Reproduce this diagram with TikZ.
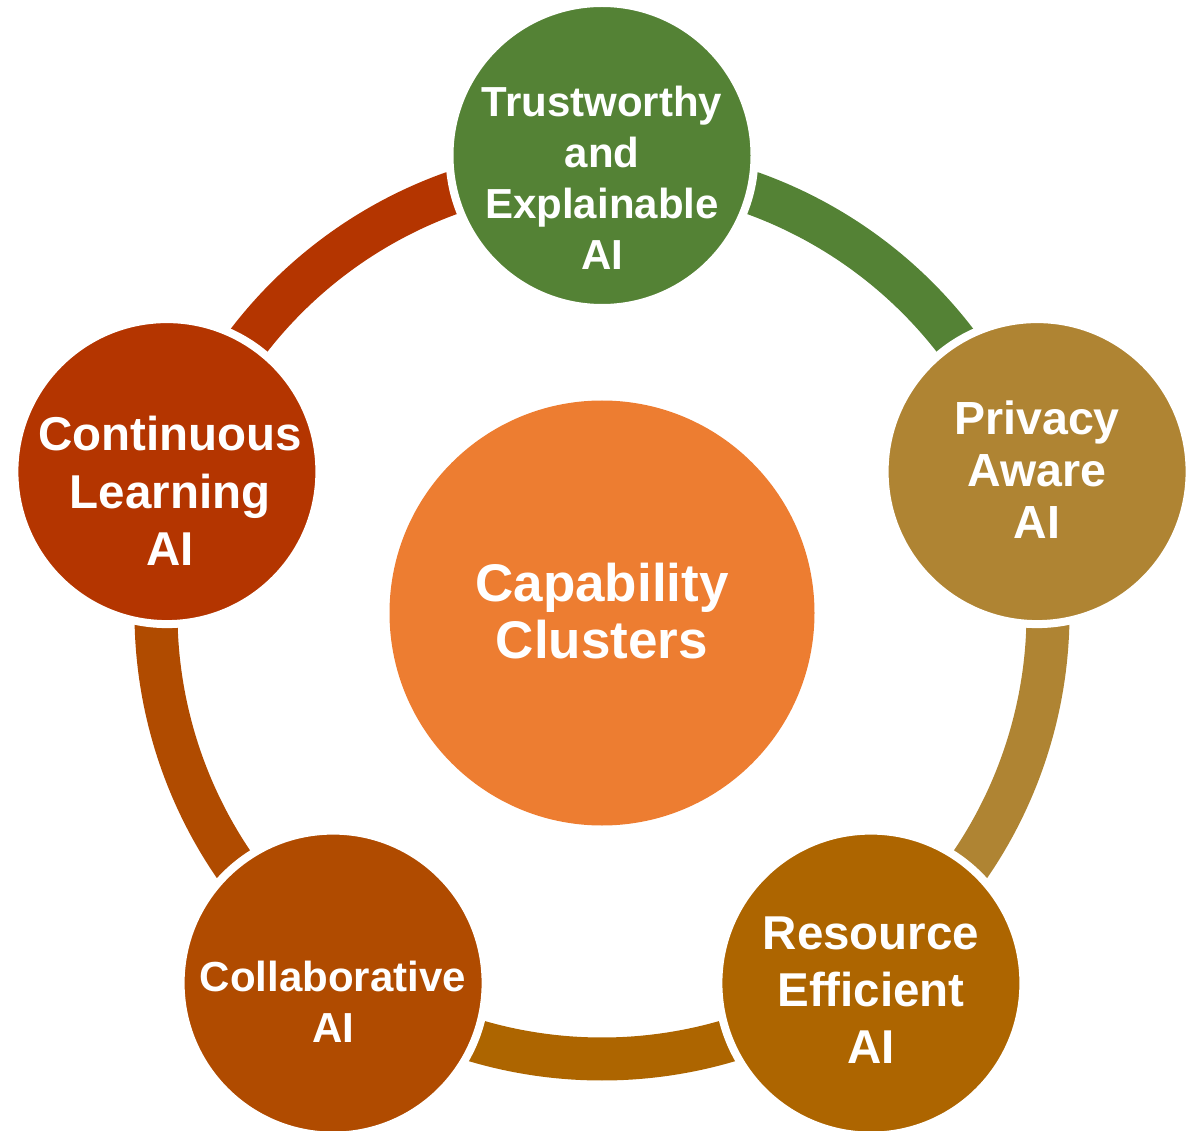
\documentclass[tikz,border=0pt]{standalone}
\usepackage{fontspec}
\setmainfont{Liberation Sans}
\definecolor{cgreen}{HTML}{548235}
\definecolor{cpriv}{HTML}{AF8433}
\definecolor{cres}{HTML}{AD6500}
\definecolor{ccol}{HTML}{B04B00}
\definecolor{ccont}{HTML}{B43500}
\definecolor{ccenter}{HTML}{ED7D31}
\tikzset{
  outernode/.style={circle, draw=white, line width=8pt, minimum size=305pt, inner sep=0pt},
  ringarc/.style={line width=43pt},
  lbl/.style={text=white, anchor=base, inner sep=0pt, font=\bfseries}
}
\newcommand{\lines}[1]{\setlength{\tabcolsep}{0pt}\begin{tabular}[t]{c}#1\end{tabular}}
\begin{document}
\begin{tikzpicture}[x=1pt,y=1pt]
\useasboundingbox (0,0) rectangle (1192,-1131);
\coordinate (C) at (602,-613);
% ring arcs
\draw[ringarc, cgreen] (C) ++(90:446) arc[start angle=90, end angle=18, radius=446];
\draw[ringarc, cpriv] (C) ++(18:446) arc[start angle=18, end angle=-54, radius=446];
\draw[ringarc, cres] (C) ++(-54:446) arc[start angle=-54, end angle=-126, radius=446];
\draw[ringarc, ccol] (C) ++(-126:446) arc[start angle=-126, end angle=-198, radius=446];
\draw[ringarc, ccont] (C) ++(162:446) arc[start angle=162, end angle=90, radius=446];
% circles
\node[outernode, fill=cgreen] (top) at (602,-155.5) {};
\node[outernode, fill=cpriv] (priv) at (1037.1,-471.6) {};
\node[outernode, fill=cres] (res) at (870.9,-983.1) {};
\node[outernode, fill=ccol] (col) at (333.1,-983.1) {};
\node[outernode, fill=ccont] (cont) at (166.9,-471.6) {};
\node[circle, fill=ccenter, minimum size=425pt, inner sep=0pt] (center) at (C) {};
% labels
\node[lbl] (ttop) at (602,-116.5) {\fontsize{42}{51}\selectfont\lines{Trustworthy\\and\\Explainable\\AI}};
\node[lbl] (tpriv) at (1037,-435) {\fontsize{46.5}{52}\selectfont\lines{Privacy\\Aware\\AI}};
\node[lbl] (tres) at (871,-949) {\fontsize{47.5}{57}\selectfont\lines{Resource\\Efficient\\AI}};
\node[lbl] (tcol) at (333,-991.7) {\fontsize{42}{51}\selectfont\lines{Collaborative\\AI}};
\node[lbl] (tcont) at (170,-450.7) {\fontsize{47.5}{57.5}\selectfont\lines{Continuous\\Learning\\AI}};
\node[lbl] (tcenter) at (602,-601.7) {\fontsize{53}{56.6}\selectfont\lines{Capability\\Clusters}};
\end{tikzpicture}
\end{document}
